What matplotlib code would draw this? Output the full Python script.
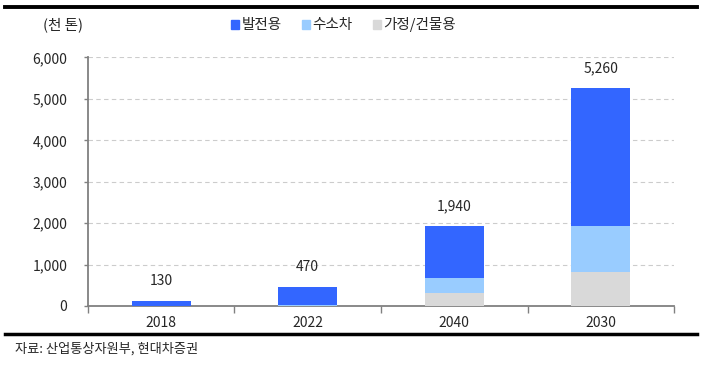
import matplotlib
matplotlib.use("Agg")
import matplotlib.pyplot as plt
from matplotlib.lines import Line2D
from matplotlib.patches import Patch
import numpy as np

plt.rcParams['font.family'] = ['Noto Sans CJK KR', 'DejaVu Sans']

categories = ['2018', '2022', '2040', '2030']
power = [130, 450, 1270, 3340]      # 발전용
vehicle = [0, 20, 360, 1100]        # 수소차
building = [0, 0, 310, 820]         # 가정/건물용
totals = [130, 470, 1940, 5260]
total_labels = ['130', '470', '1,940', '5,260']
series_names = ['발전용', '수소차', '가정/건물용']
colors = ['#3366FF', '#99CCFF', '#D9D9D9']

fig = plt.figure(figsize=(7.01, 3.66), dpi=100)
ax = fig.add_axes([0.1255, 0.164, 0.836, 0.679])

x = np.arange(len(categories))
w = 0.40
b0 = np.array(building)
b1 = b0 + np.array(vehicle)
ax.bar(x, building, w, color=colors[2], zorder=3)
ax.bar(x, vehicle, w, bottom=b0, color=colors[1], zorder=3)
ax.bar(x, power, w, bottom=b1, color=colors[0], zorder=3)

for xi, t, lab in zip(x, totals, total_labels):
    ax.annotate(lab, (xi, t), xytext=(0, 9), textcoords='offset points',
                ha='center', va='bottom', fontsize=10, color='#262626')

ax.set_xlim(-0.5, 3.5)
ax.set_ylim(0, 6000)
ax.set_yticks(np.arange(0, 6001, 1000))
ax.set_yticklabels([f'{v:,}' for v in range(0, 6001, 1000)])
ax.set_xticks(x)
ax.set_xticklabels(categories)
ax.set_xticks(np.arange(-0.5, 3.6, 1), minor=True)
ax.tick_params(axis='x', which='major', length=0, pad=7, labelsize=10, labelcolor='#262626')
ax.tick_params(axis='x', which='minor', length=5, direction='out', color='#808080', width=1)
ax.tick_params(axis='y', length=3, direction='out', color='#808080', width=1, pad=12,
               labelsize=10, labelcolor='#262626')

ax.yaxis.grid(True, linestyle=(0, (4, 3)), color='#CCCCCC', linewidth=0.8, zorder=0)
for s in ['top', 'right']:
    ax.spines[s].set_visible(False)
for s in ['left', 'bottom']:
    ax.spines[s].set_color('#808080')
    ax.spines[s].set_linewidth(1.3)

handles = [Patch(color=c) for c in colors]
fig.legend(handles, series_names, loc='center', bbox_to_anchor=(0.49, 0.932), ncol=3,
           frameon=False, handlelength=0.55, handleheight=0.55, handletextpad=0.15,
           columnspacing=1.4, fontsize=10.5, labelcolor='#262626')

fig.text(0.09, 0.932, '(천 톤)', ha='center', va='center', fontsize=10.5, color='#262626')

fig.add_artist(Line2D([0.007, 0.995], [0.981, 0.981], transform=fig.transFigure,
                      color='black', linewidth=2.8))
fig.add_artist(Line2D([0.007, 0.995], [0.0874, 0.0874], transform=fig.transFigure,
                      color='black', linewidth=2.5))
fig.text(0.021, 0.046, '자료: 산업통상자원부, 현대차증권', ha='left', va='center',
         fontsize=9.5, color='#262626')

fig.savefig('out.png', dpi=100)
